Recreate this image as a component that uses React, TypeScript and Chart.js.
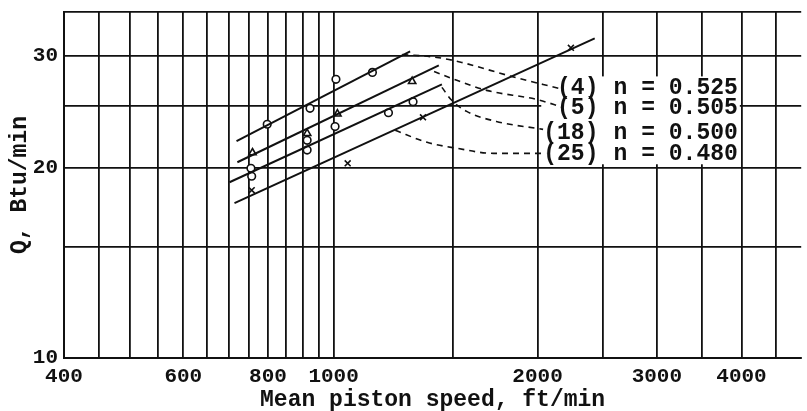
import React, { useEffect, useRef } from 'react';
import { Chart, registerables } from 'chart.js';

Chart.register(...registerables);

// ---- axes ----
const X_MIN = 400;
const X_MAX = 4900;
const Y_MIN = 10;
const Y_MAX = 35.2;
const xGrid = [400, 450, 500, 550, 600, 650, 700, 750, 800, 850, 900, 950, 1000, 1500, 2000, 2500, 3000, 3500, 4000, 4500];
const xLabeled = [400, 600, 800, 1000, 2000, 3000, 4000];
const yGrid = [10, 15, 20, 25, 30, 35.2];
const yLabeled = [10, 20, 30];

// ---- test points ----
const s4X = [798, 923, 1008, 1141];
const s4Y = [23.4, 24.8, 27.55, 28.26];
const s5X = [759, 914, 1013, 1306];
const s5Y = [21.1, 22.64, 24.3, 27.35];
const s18X = [755, 757, 914, 914, 1005, 1205, 1310];
const s18Y = [19.94, 19.37, 22.07, 21.3, 23.2, 24.4, 25.4];
const s25X = [757, 1049, 1355, 2240];
const s25Y = [18.41, 20.3, 24.0, 30.9];

// ---- fitted lines ----
const fit4X = [719, 1297];
const fit4Y = [22.0, 30.5];
const fit5X = [721, 1430];
const fit5Y = [20.38, 28.98];
const fit18X = [702, 1445];
const fit18Y = [18.95, 27.05];
const fit25X = [714, 2429];
const fit25Y = [17.56, 31.97];

// ---- dashed leaders ----
const lead4X = [1263, 1421, 1546, 1830, 2151];
const lead4Y = [30.16, 29.84, 29.3, 27.85, 26.66];
const lead5X = [1407, 1520, 1682, 1990, 2180];
const lead5Y = [28.36, 27.45, 26.47, 25.62, 24.89];
const lead18X = [1445, 1494, 1572, 1739, 2038];
const lead18Y = [26.76, 25.53, 24.52, 23.64, 22.97];
const lead25X = [1233, 1374, 1520, 1722, 2059];
const lead25Y = [22.89, 21.91, 21.44, 21.05, 21.05];

// ---- labels ----
const labelIds = ['(4)', '(5)', '(18)', '(25)'];
const labelN = ['n = 0.525', 'n = 0.505', 'n = 0.500', 'n = 0.480'];
const labelY = [26.66, 24.8, 22.64, 20.98];
const labelIdEndX = 2460;
const labelNStartX = 2590;

const FAMILY = '"Liberation Mono", "DejaVu Sans Mono", monospace';
const INK = '#111';

const pts = (xs: number[], ys: number[]) => xs.map((x, i) => ({ x, y: ys[i] }));

const labelPlugin = {
  id: 'nLabels',
  beforeDatasetsDraw(chart: any) {
    const { ctx, scales } = chart;
    const x = scales.x;
    const y = scales.y;
    ctx.save();
    ctx.font = `bold 23px ${FAMILY}`;
    const xr = x.getPixelForValue(labelIdEndX);
    const xn = x.getPixelForValue(labelNStartX);
    let left = Infinity;
    let right = -Infinity;
    labelIds.forEach((id, i) => {
      left = Math.min(left, xr - ctx.measureText(id).width);
      right = Math.max(right, xn + ctx.measureText(labelN[i]).width);
    });
    const top = y.getPixelForValue(labelY[0]) - 12;
    const bottom = y.getPixelForValue(labelY[labelY.length - 1]) + 10;
    ctx.fillStyle = '#fff';
    ctx.fillRect(left - 2, top, right - left + 4, bottom - top);
    ctx.restore();
  },
  afterDatasetsDraw(chart: any) {
    const { ctx, scales } = chart;
    const x = scales.x;
    const y = scales.y;
    ctx.save();
    ctx.font = `bold 23px ${FAMILY}`;
    ctx.fillStyle = INK;
    ctx.textBaseline = 'middle';
    const xr = x.getPixelForValue(labelIdEndX);
    const xn = x.getPixelForValue(labelNStartX);
    labelIds.forEach((id, i) => {
      const py = y.getPixelForValue(labelY[i]);
      ctx.textAlign = 'right';
      ctx.fillText(id, xr, py);
      ctx.textAlign = 'left';
      ctx.fillText(labelN[i], xn, py);
    });
    ctx.restore();
  },
};

export default function App() {
  const ref = useRef<HTMLCanvasElement | null>(null);

  useEffect(() => {
    if (!ref.current) return;
    const lineDs = (xs: number[], ys: number[]) => ({
      data: pts(xs, ys),
      showLine: true,
      borderColor: INK,
      borderWidth: 2,
      pointRadius: 0,
      fill: false,
    });
    const leadDs = (xs: number[], ys: number[]) => ({
      data: pts(xs, ys),
      showLine: true,
      borderColor: INK,
      borderWidth: 1.6,
      borderDash: [6, 5],
      cubicInterpolationMode: 'monotone',
      pointRadius: 0,
      fill: false,
    });
    const markDs = (xs: number[], ys: number[], style: string, r: number) => ({
      data: pts(xs, ys),
      showLine: false,
      pointStyle: style,
      pointRadius: r,
      pointBorderWidth: 1.6,
      pointBorderColor: INK,
      pointBackgroundColor: '#fff',
      borderColor: INK,
      backgroundColor: '#fff',
    });

    const chart = new Chart(ref.current, {
      type: 'scatter',
      data: {
        datasets: [
          lineDs(fit4X, fit4Y),
          lineDs(fit5X, fit5Y),
          lineDs(fit18X, fit18Y),
          lineDs(fit25X, fit25Y),
          leadDs(lead4X, lead4Y),
          leadDs(lead5X, lead5Y),
          leadDs(lead18X, lead18Y),
          leadDs(lead25X, lead25Y),
          markDs(s4X, s4Y, 'circle', 3.8),
          markDs(s5X, s5Y, 'triangle', 4.2),
          markDs(s18X, s18Y, 'circle', 3.8),
          markDs(s25X, s25Y, 'crossRot', 4.2),
        ] as any,
      },
      options: {
        responsive: false,
        maintainAspectRatio: false,
        animation: false,
        layout: { padding: { top: 12, left: 0, right: 0, bottom: 0 } },
        plugins: {
          legend: { display: false },
          tooltip: { enabled: false },
        },
        scales: {
          x: {
            type: 'logarithmic',
            min: X_MIN,
            max: X_MAX,
            afterBuildTicks: (s: any) => {
              s.ticks = xGrid.map((v) => ({ value: v }));
            },
            afterFit: (s: any) => {
              s.height = 53;
              s.paddingLeft = 0;
              s.paddingRight = 0;
            },
            grid: { color: INK, lineWidth: 1.8, drawTicks: false },
            border: { display: true, color: INK, width: 2 },
            ticks: {
              autoSkip: false,
              maxRotation: 0,
              padding: 6,
              color: INK,
              font: { family: FAMILY, size: 21, weight: 'bold' },
              callback: (v: any) => (xLabeled.includes(Number(v)) ? String(v) : ''),
            },
            title: {
              display: true,
              text: 'Mean piston speed, ft/min',
              color: INK,
              font: { family: FAMILY, size: 23, weight: 'bold', lineHeight: 0.9 },
              padding: { top: 0, bottom: 0 },
            },
          },
          y: {
            type: 'logarithmic',
            min: Y_MIN,
            max: Y_MAX,
            afterBuildTicks: (s: any) => {
              s.ticks = yGrid.map((v) => ({ value: v }));
            },
            afterFit: (s: any) => {
              s.width = 64;
              s.paddingTop = 0;
              s.paddingBottom = 0;
            },
            grid: { color: INK, lineWidth: 1.8, drawTicks: false },
            border: { display: true, color: INK, width: 2 },
            ticks: {
              autoSkip: false,
              padding: 6,
              color: INK,
              font: { family: FAMILY, size: 21, weight: 'bold' },
              callback: (v: any) => (yLabeled.includes(Number(v)) ? String(v) : ''),
            },
            title: {
              display: true,
              text: 'Q, Btu/min',
              color: INK,
              font: { family: FAMILY, size: 23, weight: 'bold' },
              padding: { top: 6, bottom: 0 },
            },
          },
        },
      } as any,
      plugins: [labelPlugin],
    });
    return () => chart.destroy();
  }, []);

  return (
    <div style={{ position: 'fixed', left: 0, top: 0, width: 807, height: 411, background: '#fff' }}>
      <canvas ref={ref} width={807} height={411} style={{ display: 'block' }} />
    </div>
  );
}
